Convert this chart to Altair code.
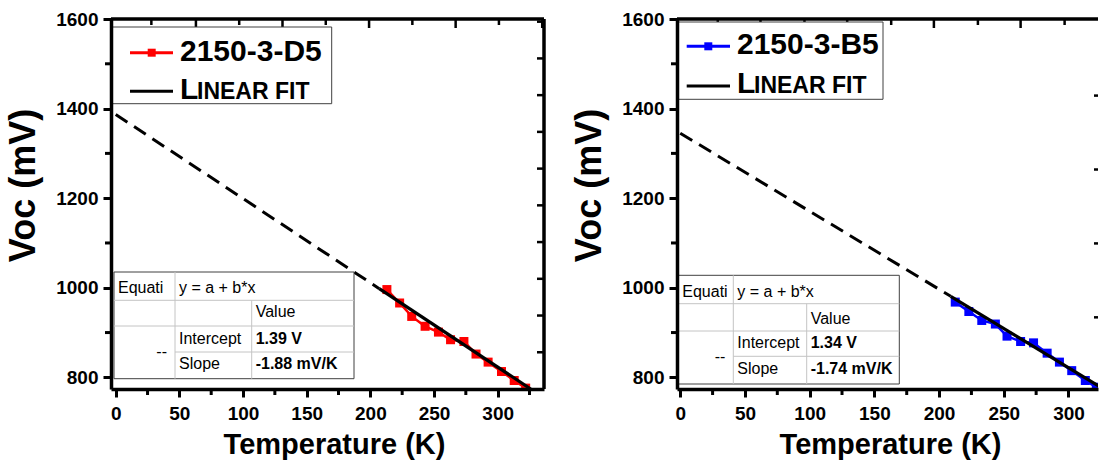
import altair as alt
import pandas as pd

# ---------------- data ----------------
temp_d5 = [213, 223, 232.5, 243, 253.5, 263, 273.5, 283, 292.5, 303, 313, 322]
voc_d5 = [996, 966, 936, 914, 901, 884, 880, 852, 834, 813, 793, 776]
temp_b5 = [212.5, 223, 233, 243.5, 252.5, 263, 273, 283.5, 293, 302.5, 313, 321.5]
voc_b5 = [968, 947, 927, 919, 892, 880, 877, 854, 834, 815, 793, 778]

# linear-fit line: start of dashed extrapolation, start of solid fit, end
fit_d5_temp = [0, 207, 326]
fit_d5_voc = [1387, 998, 774]
fit_b5_temp = [0, 209, 326]
fit_b5_voc = [1345, 981, 776]

x_major = [0, 50, 100, 150, 200, 250, 300]
x_minor = [25, 75, 125, 175, 225, 275, 325]
y_major = [800, 1000, 1200, 1400, 1600]
y_minor = [900, 1100, 1300, 1500]
top_major_d5 = [63, 131, 199, 267, 335]
top_minor_d5 = [28, 97, 165, 233, 301]
right_ticks_d5 = [856, 938, 1020, 1102, 1184, 1266, 1348, 1430, 1512, 1594]
top_major_b5 = [62, 129, 196, 263]
top_minor_b5 = [29, 96, 163, 230, 297]
right_ticks_b5 = [934, 1099, 1264, 1429]

samples = ["2150-3-D5", "2150-3-B5"]
colors = ["#ff0000", "#0000ff"]
intercepts = ["1.39 V", "1.34 V"]
slopes = ["-1.88 mV/K", "-1.74 mV/K"]
table_words = ["Equati", "y = a + b*x", "Value", "Intercept", "Slope", "--"]
fit_label = ["L", "INEAR FIT"]
x_title = "Temperature (K)"
y_title = "Voc (mV)"

FONT = "Liberation Sans"
H = 370
Y_DOMAIN = [774, 1600]
one = pd.DataFrame({"k": [0]})


def box(x1, x2, y1, y2, stroke="#404040", fill="white", sw=1):
    return alt.Chart(one).mark_rect(fill=fill, stroke=stroke, strokeWidth=sw).encode(
        x=alt.value(x1), x2=alt.value(x2), y=alt.value(y1), y2=alt.value(y2))


def seg(x1, x2, y1, y2, color="black", sw=1):
    return alt.Chart(one).mark_rule(color=color, strokeWidth=sw).encode(
        x=alt.value(x1), x2=alt.value(x2), y=alt.value(y1), y2=alt.value(y2))


def txt(s, x, y, size, bold=False, align="left", baseline="alphabetic"):
    return alt.Chart(one).mark_text(
        text=s, font=FONT, fontSize=size, fontWeight="bold" if bold else "normal",
        align=align, baseline=baseline, color="black").encode(x=alt.value(x), y=alt.value(y))


def sq(x, y, color, size):
    return alt.Chart(one).mark_square(color=color, size=size, opacity=1).encode(
        x=alt.value(x), y=alt.value(y))


def panel(temps, vocs, fitT, fitV, idx, W, xdom, top_major, top_minor, right_ticks,
          right_frame, xtitle_x, leg, tab):
    color = colors[idx]
    xs = alt.Scale(domain=xdom, nice=False, zero=False)
    ys = alt.Scale(domain=Y_DOMAIN, nice=False, zero=False)
    xaxis = alt.Axis(values=x_major, title=x_title, grid=False, zindex=1, format="d",
                     labelFont=FONT, labelFontSize=19, labelFontWeight="bold", labelColor="black",
                     labelPadding=7, labelFlush=False,
                     tickSize=8, tickWidth=3, tickColor="black",
                     domainWidth=3.5, domainColor="black",
                     titleFont=FONT, titleFontSize=29, titleFontWeight="bold", titleColor="black",
                     titleX=xtitle_x, titleY=64, titleBaseline="alphabetic", titleAlign="center")
    yaxis = alt.Axis(values=y_major, title=y_title, grid=False, zindex=1, format="d",
                     labelFont=FONT, labelFontSize=19, labelFontWeight="bold", labelColor="black",
                     labelPadding=5, labelFlush=False,
                     tickSize=8, tickWidth=3, tickColor="black",
                     domainWidth=3.5, domainColor="black",
                     titleFont=FONT, titleFontSize=36, titleFontWeight="bold", titleColor="black",
                     titleX=-69, titleY=166, titleBaseline="bottom", titleAlign="center")

    pts = pd.DataFrame({"T": temps, "V": vocs})
    fit = pd.DataFrame({"T": fitT, "V": fitV})
    X = alt.X("T:Q", scale=xs)
    Y = alt.Y("V:Q", scale=ys)

    line = alt.Chart(pts).mark_line(color=color, strokeWidth=2.5, clip=True).encode(
        x=alt.X("T:Q", scale=xs, axis=xaxis), y=alt.Y("V:Q", scale=ys, axis=yaxis))
    marks = alt.Chart(pts).mark_square(color=color, size=81, opacity=1, clip=True).encode(x=X, y=Y)
    dashed = alt.Chart(fit.iloc[:2]).mark_line(color="black", strokeWidth=3, strokeDash=[14, 8],
                                               clip=True).encode(x=X, y=Y)
    solid = alt.Chart(fit.iloc[1:]).mark_line(color="black", strokeWidth=3.2, clip=True).encode(x=X, y=Y)

    xminor = alt.Chart(pd.DataFrame({"T": [t for t in x_minor if t <= xdom[1]]})).mark_rule(
        color="black", strokeWidth=3).encode(x=X, y=alt.value(H), y2=alt.value(H + 6))
    yminor = alt.Chart(pd.DataFrame({"V": y_minor})).mark_rule(color="black", strokeWidth=3).encode(
        y=Y, x=alt.value(0), x2=alt.value(-6))
    topmaj = alt.Chart(pd.DataFrame({"T": top_major})).mark_rule(color="black", strokeWidth=2.5).encode(
        x=X, y=alt.value(0), y2=alt.value(9))
    topmin = alt.Chart(pd.DataFrame({"T": top_minor})).mark_rule(color="black", strokeWidth=2.5).encode(
        x=X, y=alt.value(0), y2=alt.value(6))
    rticks = alt.Chart(pd.DataFrame({"V": right_ticks})).mark_rule(color="black", strokeWidth=2.5).encode(
        y=Y, x=alt.value(W), x2=alt.value(W - (7 if right_frame else 4)))

    layers = [line, marks, dashed, solid, xminor, yminor, topmaj, topmin, rticks,
              seg(0, W, 0, 0, "black", 3.5)]
    if right_frame:
        layers.append(seg(W, W, 0, H, "black", 3.5))

    # legend
    lx1, lx2, ly1, ly2, l1a, l1b, ly_a, lsq, tx, tb1, tb2, ly_b, tx2 = leg
    layers += [
        box(lx1, lx2, ly1, ly2),
        seg(l1a, l1b, ly_a, ly_a, color, 3),
        sq(lsq, ly_a, color, 64),
        txt(samples[idx], tx, tb1, 30, bold=True),
        seg(l1a, l1b, ly_b, ly_b, "black", 3),
        txt(fit_label[0], tx, tb2, 30, bold=True),
        txt(fit_label[1], tx2, tb2, 23, bold=True),
    ]

    # fit-result table
    bx1, bx2, by1, by2, c1, c2, r1, r2, r3, pad, bl = tab
    g = "#c4c4c4"
    layers += [
        box(bx1, bx2, by1, by2, stroke="#404040"),
        seg(c1, c1, by1, by2, g),
        seg(c2, c2, r1, by2, g),
        seg(bx1, bx2, r1, r1, g),
        seg(bx1, bx2, r2, r2, g),
        seg(c1, bx2, r3, r3, g),
        txt(table_words[0], bx1 + pad, bl[0], 16),
        txt(table_words[1], c1 + 4, bl[0], 16),
        txt(table_words[2], c2 + 4, bl[1], 16),
        txt(table_words[3], c1 + 4, bl[2], 16),
        txt(intercepts[idx], c2 + 4, bl[2], 16, bold=True),
        txt(table_words[4], c1 + 4, bl[3], 16),
        txt(slopes[idx], c2 + 4, bl[3], 16, bold=True),
        txt(table_words[5], c1 - 8, bl[4], 16, align="right"),
    ]
    return alt.layer(*layers).properties(width=W, height=H)


left = panel(temp_d5, voc_d5, fit_d5_temp, fit_d5_voc, 0, 433, [-3.7, 336.4],
             top_major_d5, top_minor_d5, right_ticks_d5, True, 223,
             (0.7, 220.7, 8, 84.7, 19, 62, 33.7, 40.7, 69, 42.3, 80.3, 72.3, 86),
             (3, 243, 253, 359.7, 64, 140.7, 281.3, 307, 333, 4, [274, 298, 324.7, 349.7, 338]))
right = panel(temp_b5, voc_b5, fit_b5_temp, fit_b5_voc, 1, 421, [-2.5, 322.8],
              top_major_b5, top_minor_b5, right_ticks_b5, False, 213,
              (0, 206, 3, 80.3, 9.7, 53, 27.3, 31.3, 60, 34.7, 74, 67, 77),
              (0.3, 222.3, 256.3, 365, 56.3, 129.7, 284.7, 312, 337.3, 5, [278, 304.7, 329, 354.7, 343]))

chart = alt.hconcat(left, right, spacing=133, bounds="flush").properties(
    padding={"left": 4, "top": 9, "right": 0, "bottom": 0},
    background="white",
).configure_view(stroke="transparent")

chart.save("out.html", embed_options={"renderer": "svg", "actions": False})
